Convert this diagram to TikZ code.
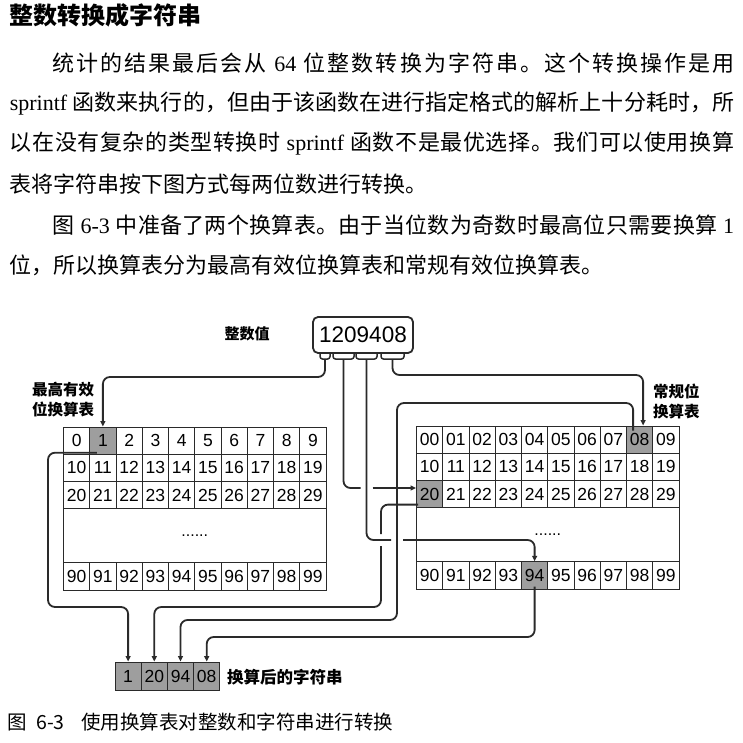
\documentclass[tikz,border=0pt]{standalone}
\usepackage{fontspec}
\setmainfont{Liberation Serif}
\newfontfamily\cjk{Noto Sans CJK SC}
\newfontfamily\tm{Liberation Serif}
\newfontfamily\hv{Liberation Sans}
\usetikzlibrary{arrows.meta,calc}

\ExplSyntaxOn
\NewDocumentCommand \jline { m m }
  { \hbox_to_wd:nn {#1} { \tl_map_inline:nn {#2} { {##1} \hfil } \unskip } }
\ExplSyntaxOff

\definecolor{ink}{HTML}{2A2A2A}
\definecolor{hl}{gray}{0.62}

\tikzset{
  cell/.style={draw=ink, line width=1pt, minimum width=26.25pt, minimum height=27.2pt,
    inner sep=0pt, font=\hv\fontsize{17.5}{17.5}\selectfont},
  gapbox/.style={draw=ink, line width=1pt, minimum width=262.5pt, minimum height=54.2pt,
    inner sep=0pt, font=\hv\fontsize{16}{16}\selectfont},
  conn/.style={draw=ink, line width=1.8pt, rounded corners=7pt},
  tip/.style={-{Triangle[length=5.5pt,width=5pt]}},
  tab/.style={draw=ink, line width=1.5pt, rounded corners=2.5pt},
  para/.style={anchor=west, inner sep=0pt, font=\cjk\fontsize{22}{22}\selectfont},
  lab/.style={inner sep=0pt, align=left, font=\cjk\bfseries\fontsize{15.5}{20}\selectfont},
}

\begin{document}
\begin{tikzpicture}[x=1pt,y=-1pt]
\useasboundingbox (0,0) rectangle (743,743);
\fill[white] (0,0) rectangle (743,743);

% ---------- text above ----------
\node[para] (title) at (9.6,15) {\bfseries\fontsize{24}{24}\selectfont 整数转换成字符串};
\node[para] (p1) at (52.6,63) {\jline{681.4pt}{统计的结果最后会从{\tm\ 64\ }位整数转换为字符串。这个转换操作是用}};
\node[para] (p2) at (9.6,103.4) {\jline{724.4pt}{{\tm sprintf\ }函数来执行的，但由于该函数在进行指定格式的解析上十分耗时，所}};
\node[para] (p3) at (9.6,143.8) {\jline{724.4pt}{以在没有复杂的类型转换时{\tm\ sprintf\ }函数不是最优选择。我们可以使用换算}};
\node[para] (p4) at (9.6,184.2) {表将字符串按下图方式每两位数进行转换。};
\node[para] (p5) at (52.6,224.6) {\jline{681.4pt}{图{\tm\ 6-3\ }中准备了两个换算表。由于当位数为奇数时最高位只需要换算{\tm\ 1}}};
\node[para] (p6) at (9.6,265) {位，所以换算表分为最高有效位换算表和常规有效位换算表。};

% ---------- integer box ----------
\node[lab, font=\cjk\bfseries\fontsize{15}{15}\selectfont] (lnum) at (247,334) {整数值};
\node[draw=ink, line width=1.8pt, rounded corners=5pt, minimum width=100pt, minimum height=36pt,
      inner sep=0pt, font=\hv\fontsize{22.5}{22.5}\selectfont] (num) at (363,335) {1209408};
\draw[tab] (320,353) -- (320,359) -- (330,359) -- (330,353);
\draw[tab] (333,353) -- (333,359) -- (354,359) -- (354,353);
\draw[tab] (356,353) -- (356,359) -- (377,359) -- (377,353);
\draw[tab] (381,353) -- (381,359) -- (404,359) -- (404,353);
\coordinate (t1) at (325,359);
\coordinate (t2) at (343.5,359);
\coordinate (t3) at (366.5,359);
\coordinate (t4) at (392.5,359);

% ---------- labels ----------
\node[lab, anchor=west] (lmsd) at (32,400) {最高有效\\位换算表};
\node[lab, anchor=west] (lreg) at (653,401.5) {常规位\\换算表};

% ---------- tables ----------
\foreach \c in {0,...,9} {
  \pgfmathsetmacro\xl{76.625+26.25*\c}
  \pgfmathsetmacro\xr{429.625+26.25*\c}
  \ifnum\c=1 \def\fa{hl}\else\def\fa{white}\fi
  \node[cell, fill=\fa] (L-0-\c) at (\xl,440.6) {\c};
  \node[cell, fill=white] (L-1-\c) at (\xl,467.8) {1\c};
  \node[cell, fill=white] (L-2-\c) at (\xl,495) {2\c};
  \node[cell, fill=white] (L-9-\c) at (\xl,576.4) {9\c};
  \ifnum\c=8 \def\fb{hl}\else\def\fb{white}\fi
  \ifnum\c=0 \def\fc{hl}\else\def\fc{white}\fi
  \ifnum\c=4 \def\fd{hl}\else\def\fd{white}\fi
  \node[cell, fill=\fb] (R-0-\c) at (\xr,439.6) {0\c};
  \node[cell, fill=white] (R-1-\c) at (\xr,466.8) {1\c};
  \node[cell, fill=\fc] (R-2-\c) at (\xr,494) {2\c};
  \node[cell, fill=\fd] (R-9-\c) at (\xr,575.4) {9\c};
}
\node[gapbox] (Ldots) at (194.75,535.7) {......};
\node[gapbox] (Rdots) at (547.75,534.7) {......};

% ---------- output string ----------
\node[cell, fill=hl, minimum width=26.2pt, minimum height=28pt] (O1) at (128.1,676) {1};
\node[cell, fill=hl, minimum width=26.2pt, minimum height=28pt] (O2) at (154.3,676) {20};
\node[cell, fill=hl, minimum width=26.2pt, minimum height=28pt] (O3) at (180.5,676) {94};
\node[cell, fill=hl, minimum width=26.2pt, minimum height=28pt] (O4) at (206.7,676) {08};
\node[lab, anchor=west, font=\cjk\bfseries\fontsize{16.5}{16.5}\selectfont] (lout) at (227,677) {换算后的字符串};

% ---------- helper coordinates ----------
\coordinate (yA) at (0,377);
\coordinate (yD) at (0,375);
\coordinate (yE) at (0,607);
\coordinate (yG0) at (0,403);
\coordinate (yG) at (0,620);
\coordinate (yH) at (0,637);
\coordinate (xE) at (48,0);
\coordinate (xG) at (397,0);
\coordinate (gB1) at (360.5,488);
\coordinate (gB2) at (372.5,488);
\coordinate (gC1) at (391,540);
\coordinate (gC2) at (403,540);
\coordinate (gF1) at (381,534);
\coordinate (gF2) at (381,546);
\coordinate (D1) at ($(R-0-8.north)+(3.5,0)$);
\coordinate (Es) at ($(L-0-1.south)+(-6,-2)$);
\coordinate (Fs) at ($(R-2-0.south west)+(2,-3.5)$);
\coordinate (Gs) at ($(R-0-8.north)+(-6.5,5)$);
\coordinate (Hs) at ($(R-9-4.south)+(0,-3)$);

% ---------- connectors from the integer ----------
\draw[conn,tip] (t1) |- (L-0-1.north |- yA) -- (L-0-1.north);
\draw[conn] (t2) |- (gB1);
\draw[conn,tip] (gB2) -- (R-2-0.west |- gB2);
\draw[conn] (t3) |- (gC1);
\draw[conn,tip] (gC2) -| (R-9-4.north);
\draw[conn,tip] (t4) |- (D1 |- yD) -- (D1);

% ---------- connectors to the output ----------
\draw[conn,tip] (Es) -| (xE |- yE) -| (O1.north);
\draw[conn] (Fs) -| (gF1);
\draw[conn,tip] (gF2) |- (O2.north |- yE) -- (O2.north);
\draw[conn,tip] (Gs) |- (xG |- yG0) |- (O3.north |- yG) -- (O3.north);
\draw[conn,tip] (Hs) |- (O4.north |- yH) -- (O4.north);

% ---------- caption ----------
\node[anchor=west, inner sep=0pt, font=\cjk\fontsize{19.5}{19.5}\selectfont] (cap) at (7,722)
  {\makebox[29pt][l]{图}\makebox[45pt][l]{6-3}使用换算表对整数和字符串进行转换};
\end{tikzpicture}
\end{document}
